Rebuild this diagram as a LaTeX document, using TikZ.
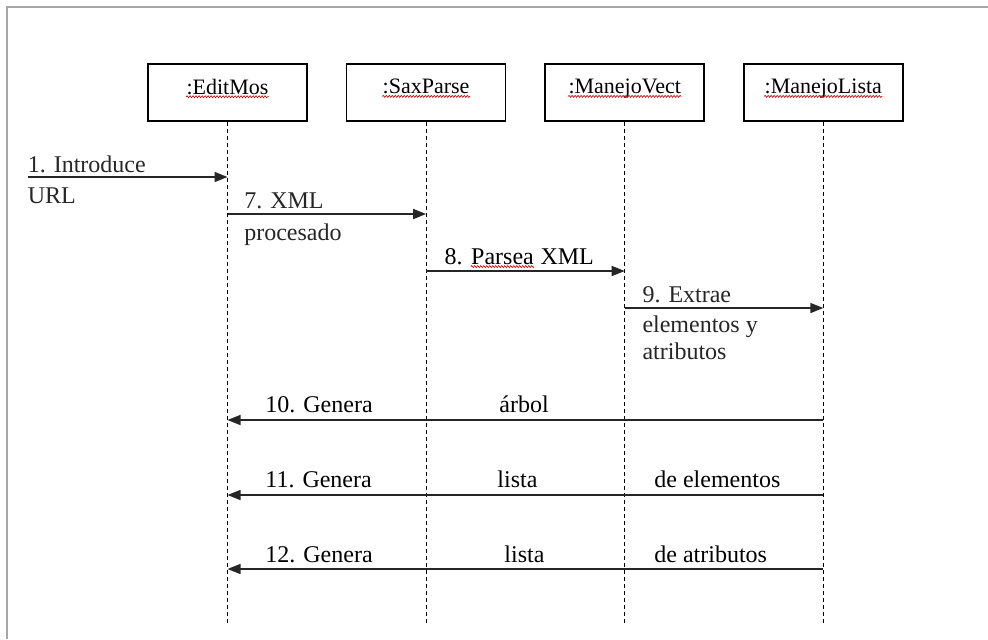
\documentclass[tikz,border=0pt]{standalone}
\usepackage{fontspec}
\setmainfont{Liberation Serif}
\usetikzlibrary{arrows.meta, decorations.pathmorphing}

\tikzset{
	obj/.style={draw, rectangle, line width=0.8pt, minimum width=79.5pt, minimum height=28.5pt, text depth=6pt, font=\fontsize{11}{13}\selectfont},
	lifeline/.style={dash pattern=on 2pt off 1.5pt, line width=0.6pt},
	msg/.style={-{Triangle[length=6.5pt, width=5pt]}, line width=0.8pt, black!85},
	lbl/.style={font=\fontsize{12}{13.5}\selectfont, inner sep=0pt, align=left},
	squiggle/.style={-, solid, red!75!black, line width=0.3pt, decorate, decoration={snake, amplitude=0.5pt, segment length=1.5pt}}
}
\newcommand{\spellmark}[1]{\tikz[baseline=(w.base)]{\node[draw=none, inner sep=0pt, minimum size=0pt, text depth=, text height=] (w) {#1}; \draw[squiggle] ([yshift=-1.3pt]w.base west) -- ([yshift=-1.3pt]w.base east);}}

\begin{document}
\begin{tikzpicture}[x=0.5pt, y=-0.5pt]
	\useasboundingbox (0,0) rectangle (988,639);
	\draw[gray!70, line width=1pt] (7,639) -- (7,7) -- (988,7);
	
	\node[obj] (edit) at (227.5,92.5) {\spellmark{:EditMos}};
	
	\node[obj, right of= edit, xshift=2.49cm] (sax) {\spellmark{:SaxParse}};
	
	\node[obj, right of= sax, xshift=2.49cm] (vect) {\spellmark{:ManejoVect}};
	
	\node[obj, right of= vect, xshift=2.49cm] (lista) {\spellmark{:ManejoLista}};
	
	\coordinate (bottom) at (0,625);
	\draw[lifeline] (edit) -- (edit |- bottom);
	\draw[lifeline] (sax) -- (sax |- bottom);
	\draw[lifeline] (vect) -- (vect |- bottom);
	\draw[lifeline] (lista) -- (lista |- bottom);
	
	\coordinate (in) at (28,177);
	\draw[msg] (in) node[lbl, anchor=base west, xshift=-0.5pt, yshift=2.5pt] (t1) {1. Introduce}
		node[lbl, anchor=north west, xshift=-0.5pt, yshift=-5pt] (t1b) {URL} -- (edit |- in);
	
	\coordinate (y7) at (0,214);
	\draw[msg] (edit |- y7) node[lbl, anchor=base west, xshift=8pt, yshift=3pt] (t7) {7. XML}
		node[lbl, anchor=north west, xshift=8pt, yshift=-4.5pt] (t7b) {procesado} -- (sax |- y7);
	
	\coordinate (y8) at (0,271);
	\draw[msg] (sax |- y8) -- (vect |- y8);
	\node[lbl, anchor=base west, xshift=9pt, yshift=3.5pt] (t8) at (sax |- y8) {8. \spellmark{Parsea} XML};
	
	\coordinate (y9) at (0,308);
	\draw[msg] (vect |- y9) node[lbl, anchor=base west, xshift=8.5pt, yshift=3pt] (t9) {9. Extrae}
		node[lbl, anchor=north west, xshift=8.5pt, yshift=-3.5pt] (t9b) {elementos y\\atributos} -- (lista |- y9);
	
	\coordinate (y10) at (0,420);
	\draw[msg] (lista |- y10) -- (edit |- y10);
	\node[lbl, anchor=base west] (t10) at (265,412) {10. Genera};
	\node[lbl, anchor=base west] (t10b) at (499,412) {árbol};
	
	\coordinate (y11) at (0,495);
	\draw[msg] (lista |- y11) -- (edit |- y11);
	\node[lbl, anchor=base west] (t11) at (265,487) {11. Genera};
	\node[lbl, anchor=base west] (t11b) at (497,487) {lista};
	\node[lbl, anchor=base west] (t11c) at (654,487) {de elementos};
	
	\coordinate (y12) at (0,569);
	\draw[msg] (lista |- y12) -- (edit |- y12);
	\node[lbl, anchor=base west] (t12) at (265,562) {12. Genera};
	\node[lbl, anchor=base west] (t12b) at (504,562) {lista};
	\node[lbl, anchor=base west] (t12c) at (654,562) {de atributos};
\end{tikzpicture}
\end{document}
